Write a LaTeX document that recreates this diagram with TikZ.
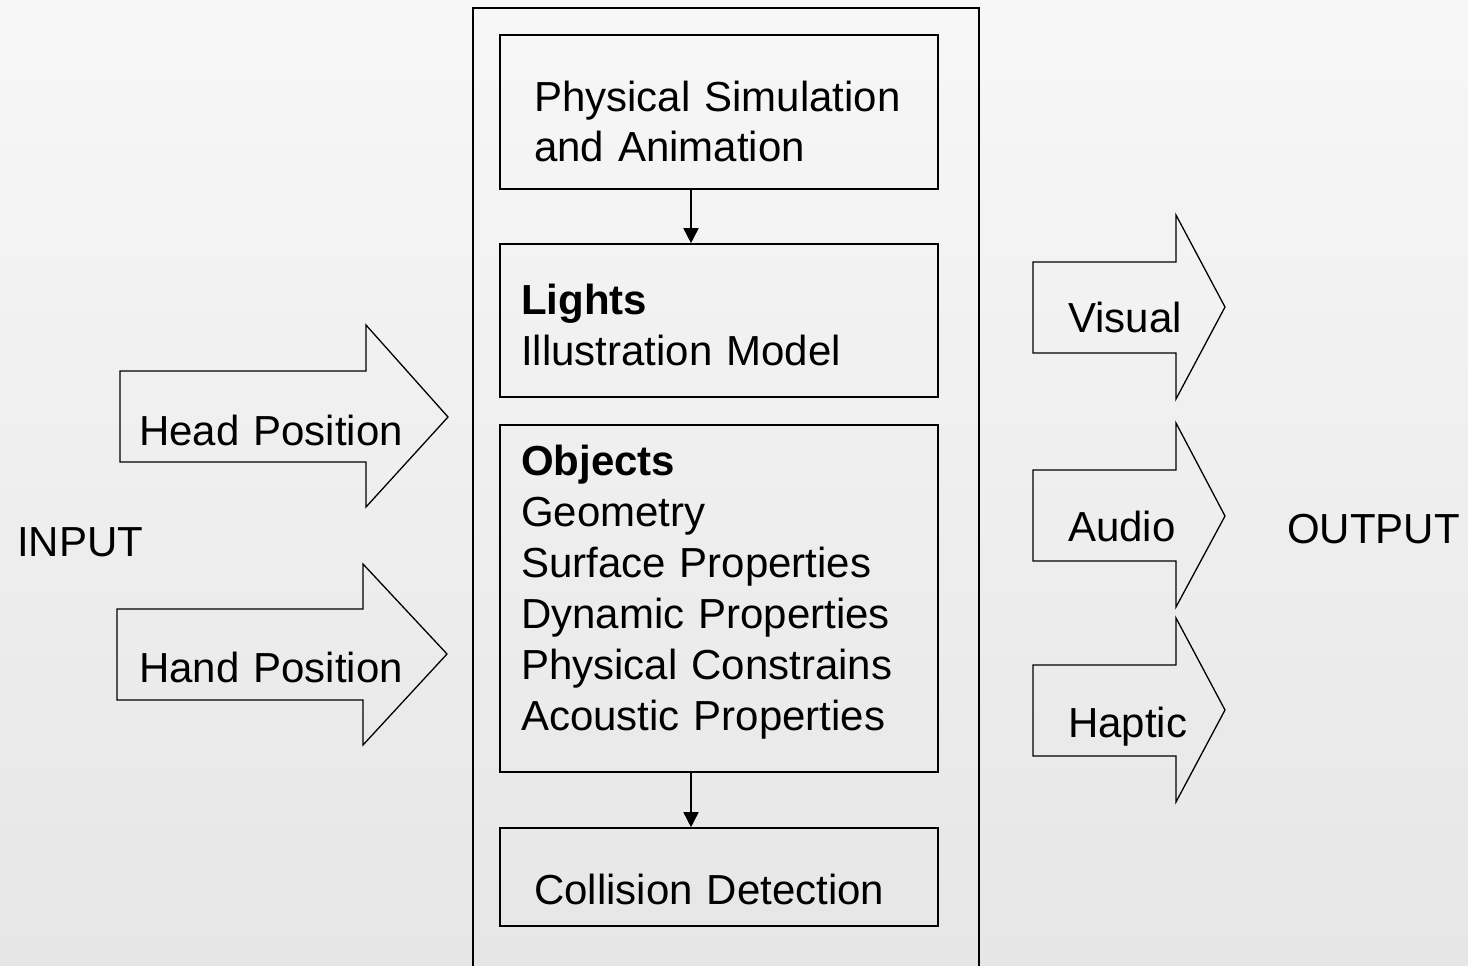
\documentclass[tikz,border=0pt]{standalone}
\usepackage{fontspec}
\setmainfont{Liberation Sans}
\usetikzlibrary{arrows.meta}
\definecolor{bgtop}{HTML}{F7F7F7}
\definecolor{bgbot}{HTML}{E6E6E6}

\begin{document}
\begin{tikzpicture}[x=1pt, y=-1pt,
    blk/.style={draw, line width=1.6pt, rectangle, minimum width=438pt, inner sep=0pt},
    txt/.style={anchor=base west, inner sep=0pt, text width=430pt, align=left,
      font=\fontsize{42}{51}\selectfont},
    barrow/.style={draw, line width=1.3pt, line join=miter},
    link/.style={line width=1.6pt, -{Triangle[length=15pt, width=15pt]}}]
  \useasboundingbox (0,0) rectangle (1468,966);
  \clip (0,0) rectangle (1468,966);
  \shade[top color=bgtop, bottom color=bgbot] (0,0) rectangle (1468,966);

  % Outer frame
  \draw[line width=1.8pt] (473,8) rectangle (979,990);

  % Boxes
  \node[blk, minimum height=154pt] (sim) at (719,112) {};
  \node[blk, minimum height=153pt] (lights) at (719,320.5) {};
  \node[blk, minimum height=347pt] (objects) at (719,598.5) {};
  \node[blk, minimum height=98pt] (coll) at (719,877) {};

  \node[txt] (simtxt) at (534,111) {Physical Simulation\\and Animation};
  \node[txt] (lightstxt) at (521,314) {\textbf{Lights}\\Illustration Model};
  \node[txt] (objtxt) at (521,475) {\textbf{Objects}\\Geometry\\Surface Properties\\
    Dynamic Properties\\Physical Constrains\\Acoustic Properties};
  \node[txt] (colltxt) at (534,904) {Collision Detection};

  \coordinate (mid) at (691,0);
  \draw[link] (sim.south -| mid) -- (lights.north -| mid);
  \draw[link] (objects.south -| mid) -- (coll.north -| mid);

  % Input arrows
  \draw[barrow] (120,371) -- (366,371) -- (366,325) -- (448,417) -- (366,507) -- (366,462) -- (120,462) -- cycle;
  \draw[barrow] (117,609) -- (363,609) -- (363,564) -- (447,654) -- (363,745) -- (363,700) -- (117,700) -- cycle;
  \node[txt] (head) at (139,445) {Head Position};
  \node[txt] (hand) at (139,682) {Hand Position};
  \node[txt] (input) at (17,556) {INPUT};

  % Output arrows
  \draw[barrow] (1033,262) -- (1176,262) -- (1176,215) -- (1225,307) -- (1176,399) -- (1176,353) -- (1033,353) -- cycle;
  \draw[barrow] (1033,470) -- (1176,470) -- (1176,423) -- (1225,516) -- (1176,607) -- (1176,561) -- (1033,561) -- cycle;
  \draw[barrow] (1033,665) -- (1176,665) -- (1176,618) -- (1225,710) -- (1176,802) -- (1176,756) -- (1033,756) -- cycle;
  \node[txt] (visual) at (1068,332) {Visual};
  \node[txt] (audio) at (1068,541) {Audio};
  \node[txt] (haptic) at (1068,737) {Haptic};
  \node[txt] (output) at (1287,543) {OUTPUT};
\end{tikzpicture}
\end{document}
